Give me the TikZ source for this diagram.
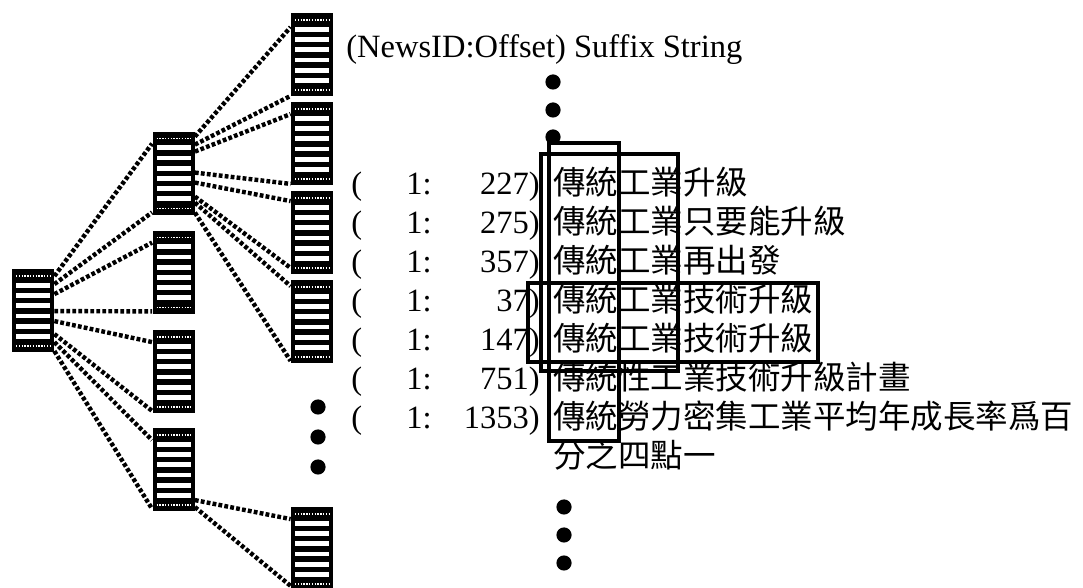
\documentclass[tikz,border=0pt]{standalone}
\usepackage{fontspec}
\setmainfont{Liberation Serif}
\newfontfamily\cjkfont{Noto Sans CJK TC}
\usetikzlibrary{calc}

\tikzset{
  pagebox/.style={rectangle, fill=black, inner sep=0pt, minimum width=21pt, minimum height=41.5pt,
    path picture={
      \foreach \k [evaluate=\k as \yy using -6.75-5.1*\k] in {0,...,5}
        \fill[white] ([xshift=2pt,yshift=\yy pt]path picture bounding box.north west) rectangle ++(17pt,-2.4pt);
      \draw[white, line width=0.7pt, dash pattern=on 0.7pt off 0.7pt]
        ([xshift=2pt,yshift=-3.3pt]path picture bounding box.north west) -- ++(17pt,0pt)
        ([xshift=2pt,yshift=3.3pt]path picture bounding box.south west) -- ++(17pt,0pt);
    }},
  link/.style={line width=2.2pt, dash pattern=on 1.9pt off 1.1pt},
  hilite/.style={line width=1.8pt},
  txt/.style={anchor=base west, inner sep=0pt, font=\fontsize{16.25}{19}\selectfont},
  cjk/.style={txt, font=\fontsize{16.25}{19}\selectfont\cjkfont},
}

\begin{document}
\begin{tikzpicture}[x=0.5pt, y=-0.5pt]
\useasboundingbox (0,0) rectangle (1083,588);

% Suffix tree pages
\node[pagebox] (R) at (33,311) {};
\node[pagebox] (A) at (173.5,173.5) {};
\node[pagebox] (B) at (173.5,272.5) {};
\node[pagebox] (C) at (173.5,372) {};
\node[pagebox] (D) at (173.5,470) {};
\node[pagebox] (P1) at (312,55) {};
\node[pagebox] (P2) at (312,144) {};
\node[pagebox] (P3) at (312,233) {};
\node[pagebox] (P4) at (312,322) {};
\node[pagebox] (P5) at (312,549) {};

% Links from the root page
\foreach \kid/\a/\b in {A/7/15, B/25/42, C/52/65, D/73/82} {
  \draw[link] ($(R.north east)+(0,\a)$) -- ($(\kid.north west)+(0,12)$);
  \draw[link] ($(R.north east)+(0,\b)$) -- ($(\kid.south west)+(0,-3)$);
}

% Links from the second level
\foreach \kid/\a/\b/\c/\d in {P1/5/13/14/1, P2/20/41/12/2, P3/51/65/10/7, P4/71/81/6/3} {
  \draw[link] ($(A.north east)+(0,\a)$) -- ($(\kid.north west)+(0,\c)$);
  \draw[link] ($(A.north east)+(0,\b)$) -- ($(\kid.south west)+(0,-\d)$);
}
\draw[link] ($(D.north east)+(0,72)$) -- ($(P5.north west)+(0,12)$);
\draw[link] ($(D.north east)+(0,79)$) -- ($(P5.south west)+(0,-5)$);

% Omitted pages
\foreach \yd in {407,437,467} \fill (318,\yd) circle[radius=3.8pt];

% Suffix list
\node[txt] (head) at (346,58) {(NewsID:Offset) Suffix String};
\foreach \yd in {82,110,137} \fill (553,\yd) circle[radius=3.8pt];

\foreach \num/\sfx [count=\i from 0] in {227/傳統工業升級, 275/傳統工業只要能升級, 357/傳統工業再出發, 37/傳統工業技術升級, 147/傳統工業技術升級, 751/傳統性工業技術升級計畫, 1353/傳統勞力密集工業平均年成長率爲百} {
  \pgfmathsetmacro\yb{195+39*\i}
  \node[txt] (open\i) at (351,\yb) {(};
  \node[txt] (id\i) at (406,\yb) {1:};
  \node[txt, anchor=base east] (off\i) at (540,\yb) {\num)};
  \node[cjk] (sfx\i) at (553,\yb) {\sfx};
}
\node[cjk] (sfx7) at (553,468) {分之四點一};
\foreach \yd in {507,535,563} \fill (564,\yd) circle[radius=3.8pt];

% Common prefixes
\draw[hilite] (549,143) rectangle (619,441);
\draw[hilite] (541,154) rectangle (678,371);
\draw[hilite] (528,283) rectangle (818,362);
\end{tikzpicture}
\end{document}
